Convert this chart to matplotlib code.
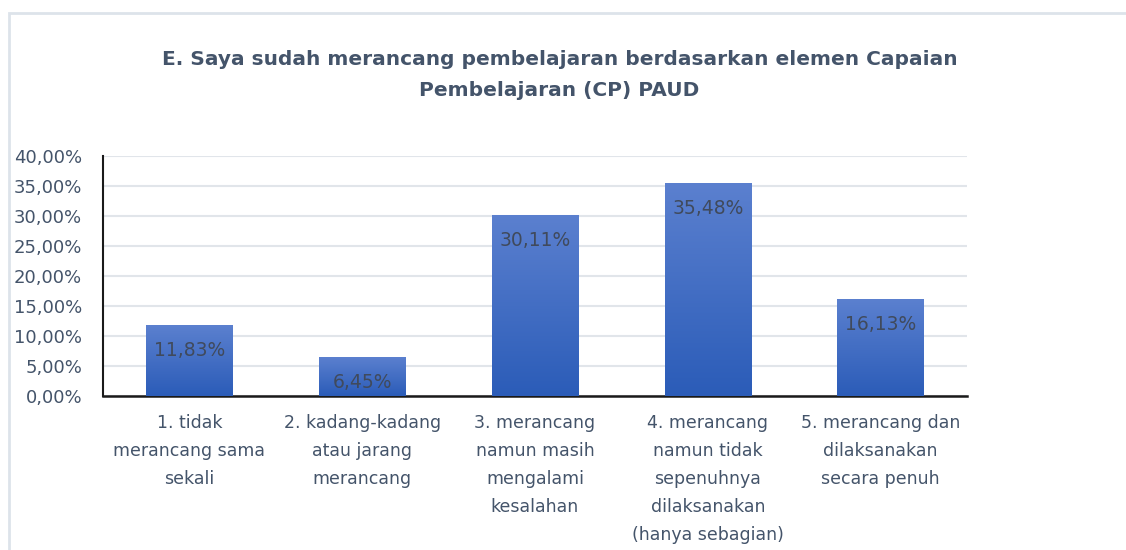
import matplotlib
matplotlib.use("Agg")
import matplotlib.pyplot as plt
import matplotlib.ticker as mticks
from matplotlib.patches import Rectangle
from matplotlib.colors import LinearSegmentedColormap
import numpy as np

categories = [
    "1. tidak\nmerancang sama\nsekali",
    "2. kadang-kadang\natau jarang\nmerancang",
    "3. merancang\nnamun masih\nmengalami\nkesalahan",
    "4. merancang\nnamun tidak\nsepenuhnya\ndilaksanakan\n(hanya sebagian)",
    "5. merancang dan\ndilaksanakan\nsecara penuh",
]
values = [11.83, 6.45, 30.11, 35.48, 16.13]
yticks = [0, 5, 10, 15, 20, 25, 30, 35, 40]

txt_color = "#44546A"
grid_color = "#E1E5EA"

fig = plt.figure(figsize=(11.26, 5.5), dpi=100)
# outer chart border
fig.patches.append(Rectangle((9 / 1126, -0.05), 1.2, 1 - 13 / 550 + 0.05,
                             transform=fig.transFigure, fill=False,
                             edgecolor="#DDE3EA", linewidth=2))

ax = fig.add_axes([103 / 1126, 1 - 396 / 550, 864 / 1126, 240 / 550])

x = np.arange(len(values))
bars = ax.bar(x, values, width=0.5, color="none", zorder=3)

# vertical gradient fill for each bar
grad = np.linspace(0, 1, 256).reshape(-1, 1)
cmap = LinearSegmentedColormap.from_list("bluegrad", ["#2B5CB8", "#5B80CF"])
for b in bars:
    x0, w, h = b.get_x(), b.get_width(), b.get_height()
    im = ax.imshow(grad, cmap=cmap, aspect="auto", origin="lower",
                   extent=[x0, x0 + w, 0, h], zorder=3)
    im.set_clip_path(b)

for xi, v in zip(x, values):
    ax.annotate(f"{v:.2f}%".replace(".", ","), (xi, v), xytext=(0, -18),
                textcoords="offset points", ha="center", va="center",
                fontsize=13.5, color="#404A5C", zorder=4)

ax.set_xlim(-0.5, len(values) - 0.5)
ax.set_ylim(0, 40)
ax.set_yticks(yticks)
ax.yaxis.set_major_formatter(mticks.FuncFormatter(lambda v, p: f"{v:.2f}%".replace(".", ",")))
ax.set_xticks(x)
ax.set_xticklabels(categories, fontsize=12.5, color=txt_color, linespacing=1.72, va="top")
ax.tick_params(axis="y", labelsize=13, labelcolor=txt_color, length=0, pad=15)
ax.tick_params(axis="x", length=0, pad=13)
ax.grid(axis="y", color=grid_color, linewidth=1.5, zorder=0)
ax.set_axisbelow(True)
for s in ["top", "right"]:
    ax.spines[s].set_visible(False)
ax.spines["left"].set_color("#1A1A1A")
ax.spines["bottom"].set_color("#1A1A1A")
ax.spines["left"].set_linewidth(1.5)
ax.spines["bottom"].set_linewidth(1.8)

fig.text(0.497, 1 - 75 / 550,
         "E. Saya sudah merancang pembelajaran berdasarkan elemen Capaian\nPembelajaran (CP) PAUD",
         ha="center", va="center", fontsize=14.5, fontweight="bold", color=txt_color,
         linespacing=1.75)

fig.savefig("out.png", dpi=100)
